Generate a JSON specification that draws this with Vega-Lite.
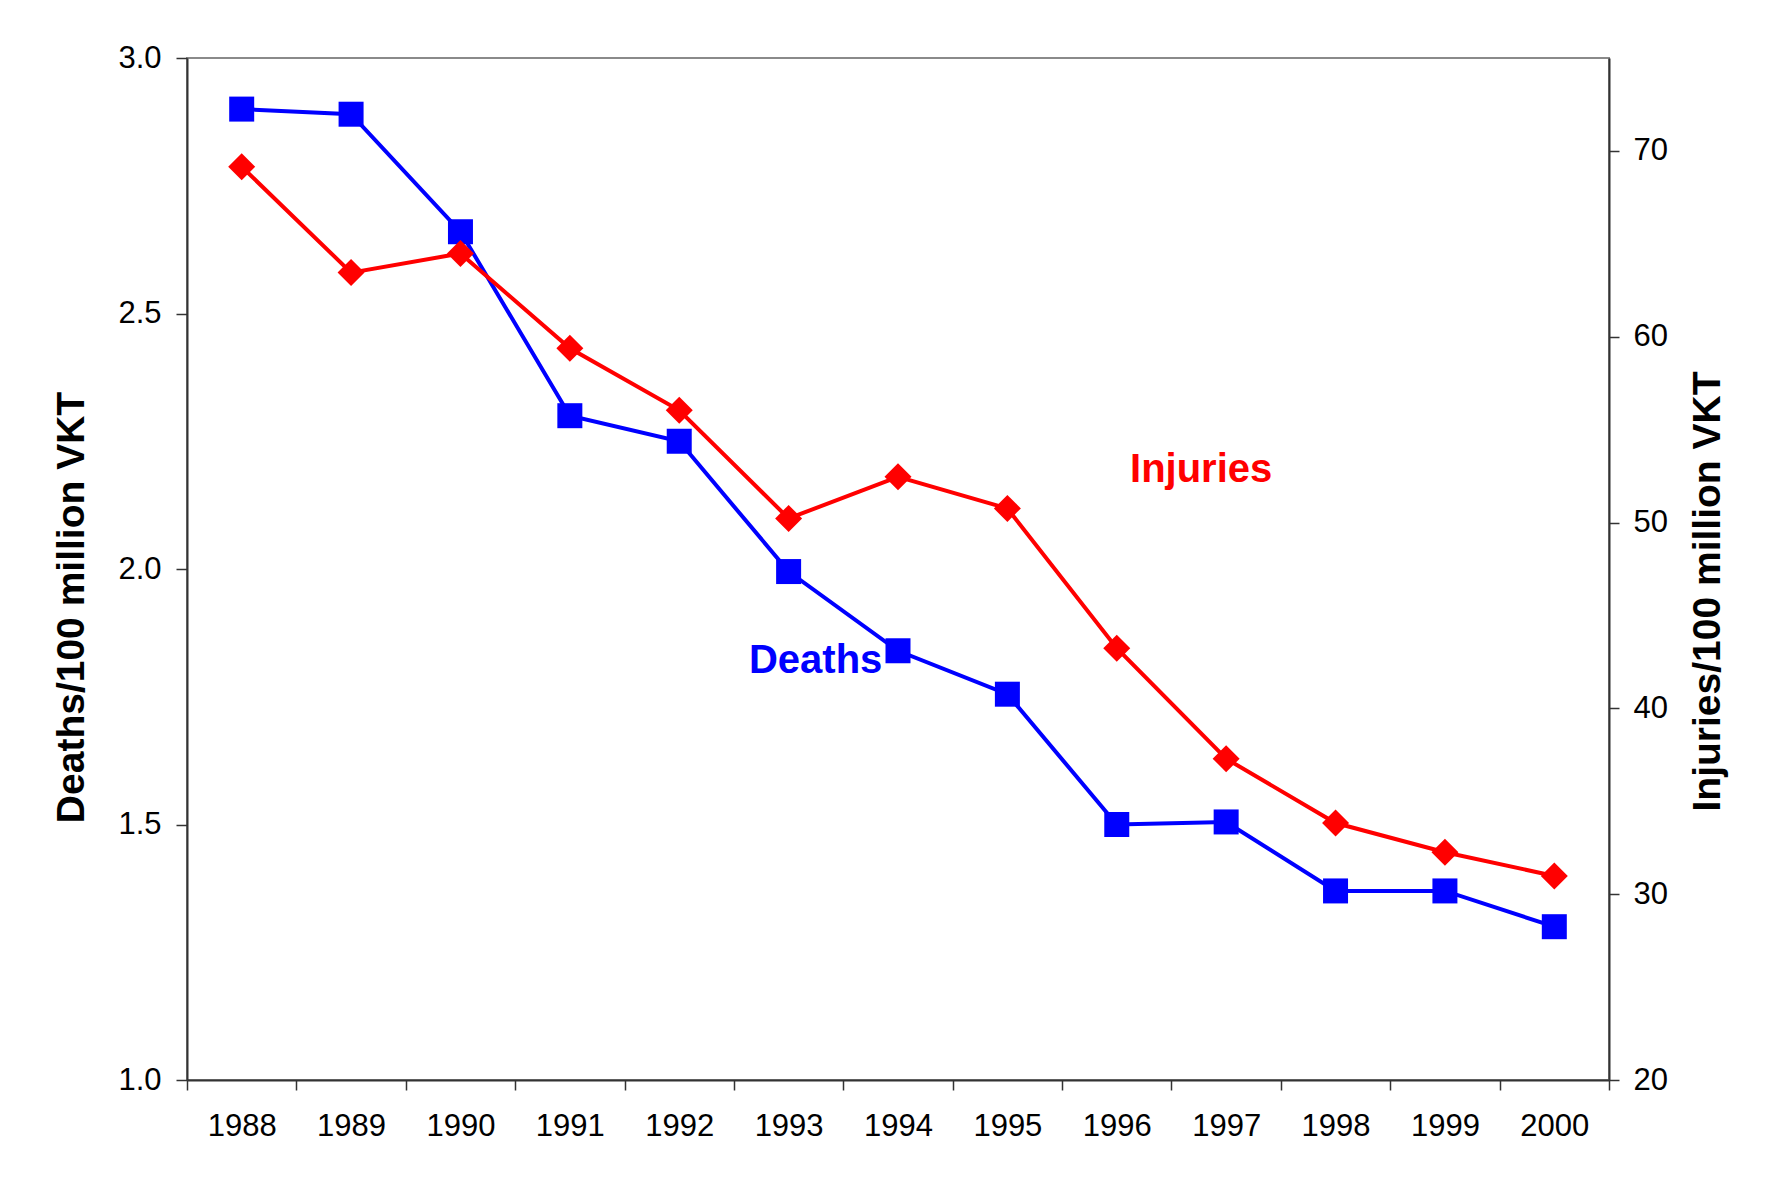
{
  "$schema": "https://vega.github.io/schema/vega-lite/v6.json",
  "autosize": {"type": "none"},
  "width": 1422,
  "height": 1022,
  "padding": {"left": 187, "top": 58, "right": 160, "bottom": 97},
  "background": "white",
  "config": {
    "font": "Liberation Sans",
    "view": {"stroke": "#8a8a8a", "strokeWidth": 2},
    "axis": {
      "grid": false,
      "domainColor": "#333333",
      "domainWidth": 2,
      "tickColor": "#333333",
      "tickWidth": 1.5,
      "labelColor": "black",
      "labelFontSize": 31,
      "labelFont": "Liberation Sans",
      "titleFont": "Liberation Sans",
      "titleColor": "black"
    }
  },
  "datasets": {
    "rates": [
      {"year": "1988", "deaths": 2.90, "injuries": 69.15},
      {"year": "1989", "deaths": 2.89, "injuries": 63.45},
      {"year": "1990", "deaths": 2.66, "injuries": 64.48},
      {"year": "1991", "deaths": 2.30, "injuries": 59.38},
      {"year": "1992", "deaths": 2.25, "injuries": 56.04},
      {"year": "1993", "deaths": 1.995, "injuries": 50.22},
      {"year": "1994", "deaths": 1.84, "injuries": 52.46},
      {"year": "1995", "deaths": 1.755, "injuries": 50.76},
      {"year": "1996", "deaths": 1.50, "injuries": 43.24},
      {"year": "1997", "deaths": 1.505, "injuries": 37.29},
      {"year": "1998", "deaths": 1.37, "injuries": 33.83},
      {"year": "1999", "deaths": 1.37, "injuries": 32.26},
      {"year": "2000", "deaths": 1.30, "injuries": 30.98}
    ],
    "labelsDeaths": [{"year": "1993", "value": 1.82, "label": "Deaths"}],
    "labelsInjuries": [{"year": "1997", "value": 52.82, "label": "Injuries"}]
  },
  "encoding": {
    "x": {
      "field": "year",
      "type": "ordinal",
      "scale": {"type": "band", "paddingInner": 0, "paddingOuter": 0},
      "axis": {
        "title": null,
        "labelAngle": 0,
        "tickBand": "extent",
        "tickSize": 10,
        "labelPadding": 21
      }
    }
  },
  "layer": [
    {
      "encoding": {
        "y": {
          "type": "quantitative",
          "scale": {"domain": [1, 3], "nice": false, "zero": false},
          "axis": {
            "orient": "left",
            "values": [1, 1.5, 2, 2.5, 3],
            "format": ".1f",
            "tickSize": 11,
            "labelPadding": 15,
            "title": "Deaths/100 million VKT",
            "titleFontSize": 39,
            "titleFontWeight": "bold",
            "titlePadding": 26,
            "titleY": 549
          }
        }
      },
      "layer": [
        {
          "data": {"name": "rates"},
          "mark": {"type": "line", "color": "#0000FF", "strokeWidth": 4},
          "encoding": {"y": {"field": "deaths", "type": "quantitative"}}
        },
        {
          "data": {"name": "rates"},
          "mark": {"type": "point", "shape": "square", "filled": true, "size": 625, "color": "#0000FF", "opacity": 1},
          "encoding": {"y": {"field": "deaths", "type": "quantitative"}}
        },
        {
          "data": {"name": "labelsDeaths"},
          "mark": {"type": "text", "color": "#0000FF", "fontSize": 40, "fontWeight": "bold", "baseline": "middle", "align": "center", "dx": 27},
          "encoding": {"y": {"field": "value", "type": "quantitative"}, "text": {"field": "label"}}
        }
      ]
    },
    {
      "encoding": {
        "y": {
          "type": "quantitative",
          "scale": {"domain": [20, 75], "nice": false, "zero": false},
          "axis": {
            "orient": "right",
            "values": [20, 30, 40, 50, 60, 70],
            "tickSize": 10,
            "labelPadding": 14,
            "title": "Injuries/100 million VKT",
            "titleFontSize": 39,
            "titleFontWeight": "bold",
            "titleAngle": 270,
            "titleBaseline": "top",
            "titlePadding": 21,
            "titleY": 533
          }
        }
      },
      "layer": [
        {
          "data": {"name": "rates"},
          "mark": {"type": "line", "color": "#FF0000", "strokeWidth": 4},
          "encoding": {"y": {"field": "injuries", "type": "quantitative"}}
        },
        {
          "data": {"name": "rates"},
          "mark": {"type": "point", "shape": "diamond", "filled": true, "size": 729, "color": "#FF0000", "opacity": 1},
          "encoding": {"y": {"field": "injuries", "type": "quantitative"}}
        },
        {
          "data": {"name": "labelsInjuries"},
          "mark": {"type": "text", "color": "#FF0000", "fontSize": 40, "fontWeight": "bold", "baseline": "middle", "align": "center", "dx": -25},
          "encoding": {"y": {"field": "value", "type": "quantitative"}, "text": {"field": "label"}}
        }
      ]
    }
  ],
  "resolve": {"scale": {"y": "independent"}}
}
